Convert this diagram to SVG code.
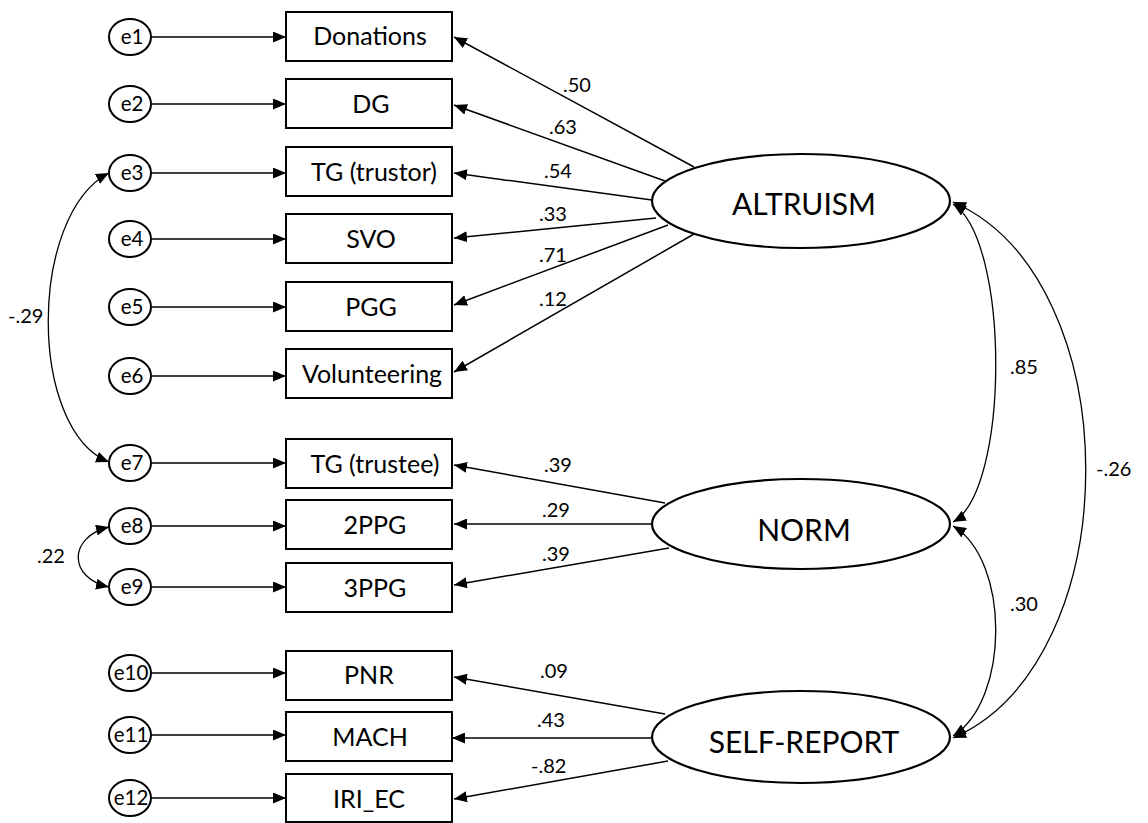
<svg xmlns="http://www.w3.org/2000/svg" width="1148" height="823" viewBox="0 0 1148 823">
<style>
.bg{fill:#fff}
.box{fill:#fff;stroke:#000;stroke-width:2}
.err{fill:#fff;stroke:#000;stroke-width:2}
.lat{fill:#fff;stroke:#000;stroke-width:2.2}
.bl{font-family:Lato,"Open Sans","Liberation Sans",sans-serif;font-size:25px;text-anchor:middle;fill:#000}
.el{font-family:Lato,"Open Sans","Liberation Sans",sans-serif;font-size:20.5px;text-anchor:middle;fill:#000}
.ll{font-family:Lato,"Open Sans","Liberation Sans",sans-serif;font-size:30px;text-anchor:middle;fill:#000}
.cl{font-family:Lato,"Open Sans","Liberation Sans",sans-serif;font-size:20px;fill:#000}
.c{fill:none;stroke:#000;stroke-width:1.5;marker-end:url(#ah)}
.cv{fill:none;stroke:#000;stroke-width:1.3;marker-start:url(#ah);marker-end:url(#ah)}
</style>
<defs>
<marker id="ah" viewBox="0 0 13 11" refX="13" refY="5.5" markerWidth="13" markerHeight="11" markerUnits="userSpaceOnUse" orient="auto-start-reverse">
<path d="M0,0 L13,5.5 L0,11 z" fill="#000"/>
</marker>
</defs>
<rect class="bg" x="0" y="0" width="1148" height="823"/>

<g id="connectors">
<line class="c" x1="152" y1="37" x2="286" y2="37"/>
<line class="c" x1="152" y1="104" x2="286" y2="104"/>
<line class="c" x1="152" y1="173" x2="286" y2="173"/>
<line class="c" x1="152" y1="239" x2="286" y2="239"/>
<line class="c" x1="152" y1="307" x2="286" y2="307"/>
<line class="c" x1="152" y1="376" x2="286" y2="376"/>
<line class="c" x1="152" y1="463" x2="286" y2="463"/>
<line class="c" x1="152" y1="526" x2="286" y2="526"/>
<line class="c" x1="152" y1="587" x2="286" y2="587"/>
<line class="c" x1="152" y1="673" x2="286" y2="673"/>
<line class="c" x1="152" y1="735" x2="286" y2="735"/>
<line class="c" x1="152" y1="798" x2="286" y2="798"/>
<line class="c" x1="694" y1="167" x2="454" y2="37"/>
<line class="c" x1="665" y1="181" x2="454" y2="105"/>
<line class="c" x1="652" y1="200" x2="454" y2="173"/>
<line class="c" x1="656" y1="218" x2="454" y2="238"/>
<line class="c" x1="668" y1="225" x2="454" y2="305"/>
<line class="c" x1="694" y1="234" x2="454" y2="372"/>
<line class="c" x1="665" y1="503" x2="454" y2="465"/>
<line class="c" x1="652" y1="524" x2="454" y2="524"/>
<line class="c" x1="669" y1="548" x2="454" y2="585"/>
<line class="c" x1="665" y1="714" x2="454" y2="677"/>
<line class="c" x1="651" y1="738" x2="452" y2="738"/>
<line class="c" x1="668" y1="761" x2="454" y2="799"/>
<path class="cv" d="M109,173 C28,215 28,430 109,462"/>
<path class="cv" d="M109,527 C68,537 68,578 109,587"/>
<path class="cv" d="M953,204 C1010,240 1010,490 953,522"/>
<path class="cv" d="M953,526 C1010,560 1010,700 953,736"/>
<path class="cv" d="M953,202 C1130,280 1130,660 953,738"/>
<text class="cl" x="563" y="92">.50</text>
<text class="cl" x="549" y="134">.63</text>
<text class="cl" x="544" y="178">.54</text>
<text class="cl" x="539" y="221">.33</text>
<text class="cl" x="539" y="262">.71</text>
<text class="cl" x="539" y="306">.12</text>
<text class="cl" x="544" y="472">.39</text>
<text class="cl" x="542" y="517">.29</text>
<text class="cl" x="542" y="561">.39</text>
<text class="cl" x="540" y="678">.09</text>
<text class="cl" x="537" y="727">.43</text>
<text class="cl" x="531" y="773">-.82</text>
<text class="cl" x="8" y="323">-.29</text>
<text class="cl" x="37" y="563">.22</text>
<text class="cl" x="1010" y="374">.85</text>
<text class="cl" x="1010" y="611">.30</text>
<text class="cl" x="1096" y="476">-.26</text>
</g>

<g id="e1"><ellipse class="err" cx="130" cy="37" rx="21" ry="18"/><text class="el" x="132" y="44">e1</text></g>
<g id="e2"><ellipse class="err" cx="130" cy="104" rx="21" ry="18"/><text class="el" x="132" y="111">e2</text></g>
<g id="e3"><ellipse class="err" cx="130" cy="173" rx="21" ry="18"/><text class="el" x="132" y="180">e3</text></g>
<g id="e4"><ellipse class="err" cx="130" cy="239" rx="21" ry="18"/><text class="el" x="132" y="246">e4</text></g>
<g id="e5"><ellipse class="err" cx="130" cy="307" rx="21" ry="18"/><text class="el" x="132" y="314">e5</text></g>
<g id="e6"><ellipse class="err" cx="130" cy="376" rx="21" ry="18"/><text class="el" x="132" y="383">e6</text></g>
<g id="e7"><ellipse class="err" cx="130" cy="463" rx="21" ry="18"/><text class="el" x="132" y="470">e7</text></g>
<g id="e8"><ellipse class="err" cx="130" cy="526" rx="21" ry="18"/><text class="el" x="132" y="533">e8</text></g>
<g id="e9"><ellipse class="err" cx="130" cy="587" rx="21" ry="18"/><text class="el" x="132" y="594">e9</text></g>
<g id="e10"><ellipse class="err" cx="130" cy="673" rx="21" ry="18"/><text class="el" x="131" y="680">e10</text></g>
<g id="e11"><ellipse class="err" cx="130" cy="735" rx="21" ry="18"/><text class="el" x="131" y="742">e11</text></g>
<g id="e12"><ellipse class="err" cx="130" cy="798" rx="21" ry="18"/><text class="el" x="131" y="805">e12</text></g>

<g id="Donations"><rect class="box" x="286" y="12" width="166" height="49"/><text class="bl" x="370" y="45">Donations</text></g>
<g id="DG"><rect class="box" x="286" y="79" width="166" height="49"/><text class="bl" x="371" y="113">DG</text></g>
<g id="TG_trustor"><rect class="box" x="286" y="147" width="166" height="49"/><text class="bl" x="374" y="181">TG (trustor)</text></g>
<g id="SVO"><rect class="box" x="286" y="214" width="166" height="49"/><text class="bl" x="371" y="248">SVO</text></g>
<g id="PGG"><rect class="box" x="286" y="282" width="166" height="49"/><text class="bl" x="371" y="316">PGG</text></g>
<g id="Volunteering"><rect class="box" x="286" y="349" width="166" height="49"/><text class="bl" x="372" y="383">Volunteering</text></g>
<g id="TG_trustee"><rect class="box" x="286" y="439" width="166" height="49"/><text class="bl" x="375" y="473">TG (trustee)</text></g>
<g id="2PPG"><rect class="box" x="286" y="500" width="166" height="49"/><text class="bl" x="375" y="534">2PPG</text></g>
<g id="3PPG"><rect class="box" x="286" y="563" width="166" height="49"/><text class="bl" x="375" y="597">3PPG</text></g>
<g id="PNR"><rect class="box" x="286" y="651" width="166" height="49"/><text class="bl" x="369" y="684">PNR</text></g>
<g id="MACH"><rect class="box" x="286" y="712" width="166" height="49"/><text class="bl" x="370" y="746">MACH</text></g>
<g id="IRI_EC"><rect class="box" x="286" y="774" width="166" height="48"/><text class="bl" x="369" y="808">IRI_EC</text></g>

<g id="ALTRUISM"><ellipse class="lat" cx="801" cy="201" rx="149" ry="47"/><text class="ll" x="804" y="215">ALTRUISM</text></g>
<g id="NORM"><ellipse class="lat" cx="801" cy="524" rx="149" ry="45"/><text class="ll" x="804" y="541">NORM</text></g>
<g id="SELF-REPORT"><ellipse class="lat" cx="801" cy="737" rx="149" ry="46"/><text class="ll" x="804" y="753">SELF-REPORT</text></g>
</svg>
